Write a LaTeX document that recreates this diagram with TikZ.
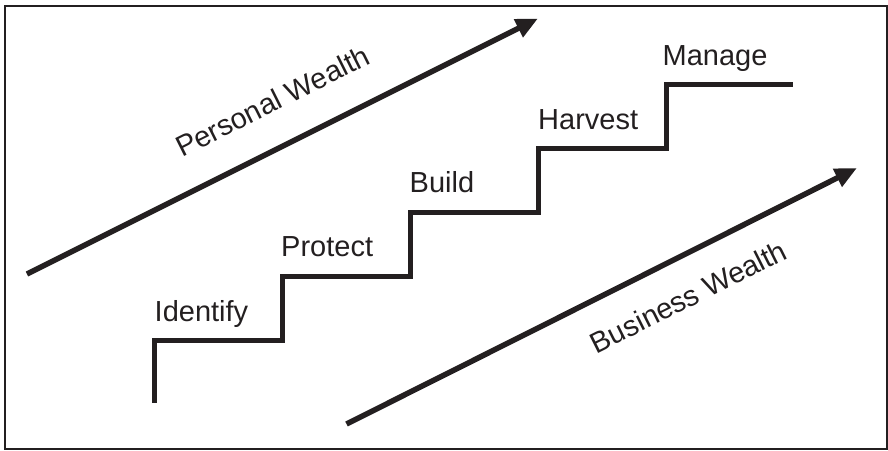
\documentclass[tikz,border=0pt]{standalone}
\usepackage{fontspec}
\setmainfont{Liberation Sans}
\usetikzlibrary{arrows.meta}
\definecolor{ink}{RGB}{35,31,32}
\begin{document}
\begin{tikzpicture}[x=1pt,y=-1pt,
  frame/.style={draw=ink,line width=2.2pt},
  stairs/.style={draw=ink,line width=5pt,line join=miter,line cap=butt},
  trend/.style={draw=ink,line width=5.5pt,-{Triangle[length=22pt,width=19pt]}},
  steplabel/.style={anchor=base west,inner sep=0pt,text=ink,font=\fontsize{29}{33}\selectfont},
  trendlabel/.style={anchor=base,inner sep=0pt,text=ink,rotate=26.57,font=\fontsize{29}{33}\selectfont}]
\useasboundingbox (0,0) rectangle (888,450);
\draw[frame] (5.3,6) rectangle (886.9,449);

% staircase
\draw[stairs] (154.5,402.5) -- (154.5,340) -- (282,340) -- (282,276)
  -- (410,276) -- (410,212) -- (538,212) -- (538,148) -- (666,148)
  -- (666,84) -- (793,84);

\node[steplabel] (identify) at (154.5,321.7) {Identify};
\node[steplabel] (protect) at (281,256.7) {Protect};
\node[steplabel] (build) at (409.5,192) {Build};
\node[steplabel] (harvest) at (538,129.3) {Harvest};
\node[steplabel] (manage) at (662.5,65) {Manage};

% trend arrows
\coordinate (pstart) at (27,274);
\coordinate (pend) at (538,18.5);
\coordinate (bstart) at (346.5,424);
\coordinate (bend) at (857,168);
\draw[trend] (pstart) -- (pend);
\draw[trend] (bstart) -- (bend);

\node[trendlabel] (personal) at (277,110.5) {Personal Wealth};
\node[trendlabel] (business) at (693,306) {Business Wealth};
\end{tikzpicture}
\end{document}
